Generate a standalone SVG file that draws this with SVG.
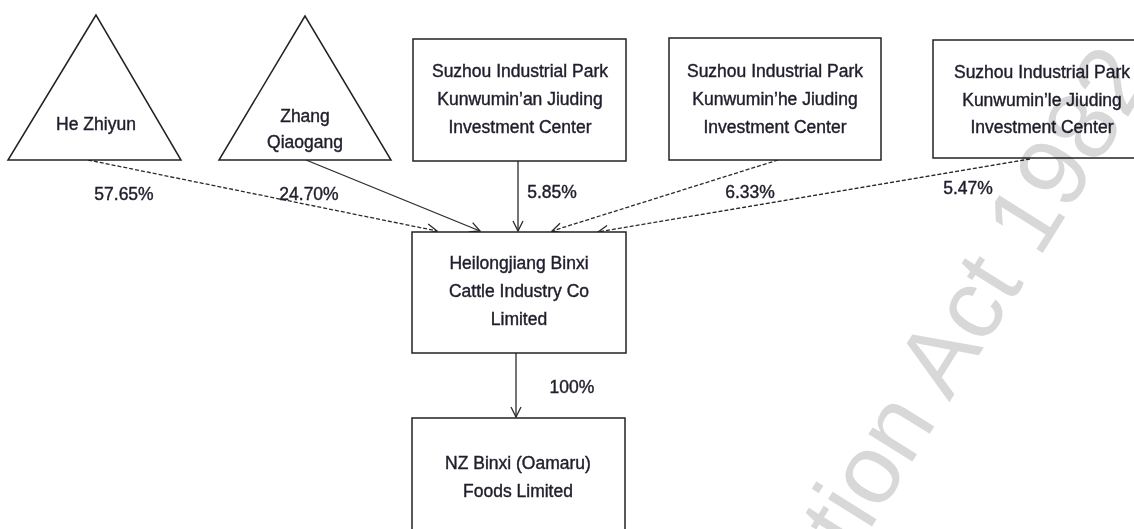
<svg xmlns="http://www.w3.org/2000/svg" width="1134" height="529" viewBox="0 0 1134 529">
<defs>
<style>
.shape{fill:#ffffff;stroke:#222222;stroke-width:1.5}
.t{font-family:"Liberation Sans",Arial,sans-serif;font-size:17.5px;fill:#1e1e2c;stroke:#1e1e2c;stroke-width:0.4;text-anchor:middle}
.lbl{font-family:"Liberation Sans",Arial,sans-serif;font-size:17.5px;fill:#1e1e2c;stroke:#1e1e2c;stroke-width:0.4;text-anchor:middle}
.solid{stroke:#2a2a2a;stroke-width:1.3;fill:none;marker-end:url(#arr)}
.dash{stroke:#2a2a2a;stroke-width:1.3;fill:none;stroke-dasharray:4 2;marker-end:url(#arr)}
.wm{font-family:"Liberation Sans",Arial,sans-serif;font-size:98px;fill:#d8d8d8;mix-blend-mode:multiply}
</style>
<marker id="arr" markerUnits="userSpaceOnUse" markerWidth="14" markerHeight="14" refX="11" refY="6" orient="auto">
<path d="M1,1 L11,6 L1,11" fill="none" stroke="#2a2a2a" stroke-width="1.3"/>
</marker>
</defs>
<rect width="1134" height="529" fill="#ffffff"/>

<g id="connectors">
<line class="dash" x1="88" y1="160" x2="437" y2="231"/>
<line class="solid" x1="306" y1="160" x2="480" y2="231"/>
<line class="solid" x1="518" y1="161" x2="518" y2="231"/>
<line class="dash" x1="778" y1="160" x2="552" y2="231"/>
<line class="dash" x1="1030" y1="159" x2="598" y2="232"/>
<line class="solid" x1="516" y1="353" x2="516" y2="417"/>
</g>

<g id="he-zhiyun">
<polygon class="shape" points="96,15 8,160 181,160"/>
<text class="t" x="96" y="130">He Zhiyun</text>
</g>
<g id="zhang-qiaogang">
<polygon class="shape" points="305,16 219,160 391,160"/>
<text class="t" x="305" y="122">Zhang</text>
<text class="t" x="305" y="148">Qiaogang</text>
</g>
<g id="suzhou-an">
<rect class="shape" x="413" y="39" width="213" height="122"/>
<text class="t" x="520" y="77">Suzhou Industrial Park</text>
<text class="t" x="520" y="105">Kunwumin’an Jiuding</text>
<text class="t" x="520" y="133">Investment Center</text>
</g>
<g id="suzhou-he">
<rect class="shape" x="669" y="38" width="212" height="122"/>
<text class="t" x="775" y="77">Suzhou Industrial Park</text>
<text class="t" x="775" y="105">Kunwumin’he Jiuding</text>
<text class="t" x="775" y="133">Investment Center</text>
</g>
<g id="suzhou-le">
<rect class="shape" x="933" y="40" width="218" height="118"/>
<text class="t" x="1042" y="78">Suzhou Industrial Park</text>
<text class="t" x="1042" y="106">Kunwumin’le Jiuding</text>
<text class="t" x="1042" y="133">Investment Center</text>
</g>
<g id="heilongjiang">
<rect class="shape" x="412" y="232" width="214" height="121"/>
<text class="t" x="519" y="269">Heilongjiang Binxi</text>
<text class="t" x="519" y="297">Cattle Industry Co</text>
<text class="t" x="519" y="325">Limited</text>
</g>
<g id="nz-binxi">
<rect class="shape" x="412" y="418" width="213" height="150"/>
<text class="t" x="518" y="469">NZ Binxi (Oamaru)</text>
<text class="t" x="518" y="497">Foods Limited</text>
</g>

<g id="labels">
<text class="lbl" x="124" y="200">57.65%</text>
<text class="lbl" x="309" y="200">24.70%</text>
<text class="lbl" x="552" y="198">5.85%</text>
<text class="lbl" x="750" y="198">6.33%</text>
<text class="lbl" x="968" y="194">5.47%</text>
<text class="lbl" x="572" y="393">100%</text>
</g>

<text class="wm" x="854" y="555" transform="rotate(-58 854 555)">tion Act 1982</text>
</svg>
